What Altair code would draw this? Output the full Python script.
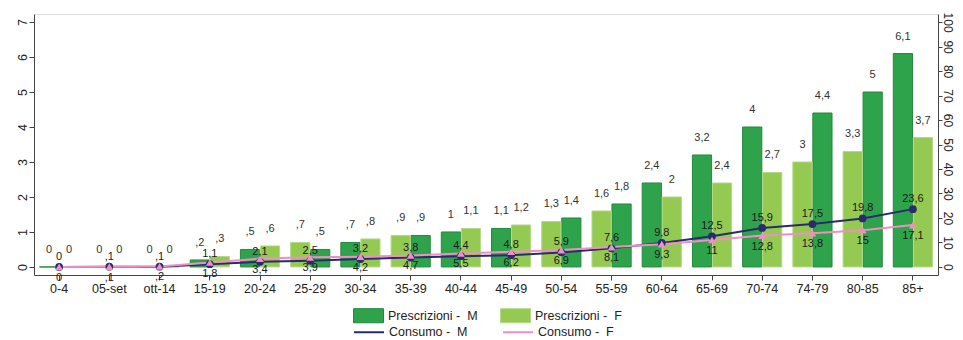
import altair as alt
import pandas as pd

ages = ["0-4", "05-set", "ott-14", "15-19", "20-24", "25-29", "30-34", "35-39",
        "40-44", "45-49", "50-54", "55-59", "60-64", "65-69", "70-74", "74-79",
        "80-85", "85+"]
presc_m = [0, 0, 0, 0.2, 0.5, 0.5, 0.7, 0.9, 1.0, 1.1, 1.4, 1.8, 2.4, 3.2, 4.0, 4.4, 5.0, 6.1]
presc_f = [0, 0, 0, 0.3, 0.6, 0.7, 0.8, 0.9, 1.1, 1.2, 1.3, 1.6, 2.0, 2.4, 2.7, 3.0, 3.3, 3.7]
# whether the M bar is drawn on the left side of its pair (as in the original)
m_left = [True, True, True, True, True, False, True, False, True, True, False, False,
          True, True, True, False, False, True]
cons_m = [0, 0.1, 0.1, 1.1, 2.1, 2.5, 3.2, 3.8, 4.4, 4.8, 5.9, 7.6, 9.8, 12.5, 15.9, 17.5, 19.8, 23.6]
cons_f = [0, 0.1, 0.2, 1.8, 3.4, 3.9, 4.2, 4.7, 5.5, 6.2, 6.9, 8.1, 9.3, 11, 12.8, 13.8, 15, 17.1]

NB = "\u00a0"
S_PM = "Prescrizioni -" + NB + " M"
S_PF = "Prescrizioni -" + NB + " F"
S_CM = "Consumo -" + NB + " M"
S_CF = "Consumo -" + NB + " F"

DARK = "#2ea34b"
LIGHT = "#94c952"
NAVY = "#2c2a6f"
PINK = "#f08fc4"
FONT = "Liberation Sans"
AXC = "#444"


def fmt(v):
    s = ("%g" % v).replace(".", ",")
    if s.startswith("0,"):
        s = s[1:]
    return s


bar_rows = []
line_rows = []
for i, a in enumerate(ages):
    bar_rows.append(dict(age=a, serie=S_PM, value=presc_m[i],
                         slot="L" if m_left[i] else "R", label=fmt(presc_m[i])))
    bar_rows.append(dict(age=a, serie=S_PF, value=presc_f[i],
                         slot="R" if m_left[i] else "L", label=fmt(presc_f[i])))
    line_rows.append(dict(age=a, serie=S_CM, value=cons_m[i], label=fmt(cons_m[i])))
    line_rows.append(dict(age=a, serie=S_CF, value=cons_f[i], label=fmt(cons_f[i])))
bars_df = pd.DataFrame(bar_rows)
lines_df = pd.DataFrame(line_rows)

x_enc = alt.X("age:N", sort=ages,
              scale=alt.Scale(paddingInner=0.22, paddingOuter=0.11),
              axis=alt.Axis(title=None, labelAngle=0, tickSize=5, labelPadding=2,
                            labelFontSize=12.5, domainColor=AXC, tickColor=AXC,
                            labelColor="#222", labelOverlap=False))

left_axis = alt.Axis(title=None, orient="left", values=list(range(8)),
                     labelAngle=270, labelAlign="center", labelBaseline="alphabetic",
                     tickSize=5, labelPadding=3, grid=False, labelOverlap=False,
                     labelFontSize=12.5, domainColor=AXC, tickColor=AXC,
                     labelColor="#222")
left_scale = alt.Scale(domain=[-0.23, 7.23], nice=False, zero=False)

right_axis = alt.Axis(title=None, orient="right", values=list(range(0, 101, 10)),
                      labelAngle=90, labelAlign="center", labelBaseline="alphabetic",
                      tickSize=4, labelPadding=1, grid=False, labelOverlap=False,
                      labelFontSize=12, domainColor=AXC, tickColor=AXC,
                      labelColor="#222")
right_scale = alt.Scale(domain=[-3.3, 103.3], nice=False, zero=False)

bar_base = alt.Chart(bars_df)
bars = bar_base.mark_bar(strokeWidth=1).encode(
    x=x_enc,
    xOffset=alt.XOffset("slot:N", scale=alt.Scale(domain=["L", "R"], paddingInner=0.04)),
    y=alt.Y("value:Q", stack=None, scale=left_scale, axis=left_axis),
    fill=alt.Fill("serie:N", scale=alt.Scale(domain=[S_PM, S_PF], range=[DARK, LIGHT]),
                  legend=alt.Legend(title=None, orient="none", legendX=319, legendY=286,
                                    columns=2, columnPadding=20, padding=0,
                                    symbolType="M-1,-0.47H1V0.47H-1Z", symbolSize=900,
                                    symbolStrokeWidth=1, labelFontSize=12.5,
                                    labelFont=FONT, labelColor="#222", labelOffset=4)),
    stroke=alt.Stroke("serie:N", scale=alt.Scale(domain=[S_PM, S_PF], range=["#238a3c", "#b3da86"]),
                      legend=None),
)
bar_text = bar_base.mark_text(dy=-17, fontSize=11, font=FONT, color="#333").encode(
    x=alt.X("age:N", sort=ages),
    xOffset=alt.XOffset("slot:N"),
    y=alt.Y("value:Q", stack=None, scale=left_scale, axis=left_axis),
    text="label:N",
)

line_base = alt.Chart(lines_df)
y_r = alt.Y("value:Q", scale=right_scale, axis=right_axis)
lines = line_base.mark_line(strokeWidth=2).encode(
    x=alt.X("age:N", sort=ages), y=y_r,
    color=alt.Color("serie:N", scale=alt.Scale(domain=[S_CM, S_CF], range=[NAVY, PINK]),
                    legend=alt.Legend(title=None, orient="none", legendX=319, legendY=302,
                                      columns=2, columnPadding=31, padding=0,
                                      symbolType="stroke", symbolSize=900,
                                      symbolStrokeWidth=2, labelFontSize=12.5,
                                      labelFont=FONT, labelColor="#222", labelOffset=4)),
)
pts_m = line_base.transform_filter(alt.datum.serie == S_CM).mark_point(
    filled=True, size=60, opacity=1, shape="circle", color=NAVY).encode(
    x=alt.X("age:N", sort=ages), y=y_r)
pts_f = line_base.transform_filter(alt.datum.serie == S_CF).mark_point(
    filled=True, size=60, opacity=1, shape="triangle-up", color=PINK).encode(
    x=alt.X("age:N", sort=ages), y=y_r)
text_m = line_base.transform_filter(alt.datum.serie == S_CM).mark_text(
    dy=-10, fontSize=11, font=FONT, color="#1a1a1a").encode(
    x=alt.X("age:N", sort=ages), y=y_r, text="label:N")
text_f = line_base.transform_filter(alt.datum.serie == S_CF).mark_text(
    dy=11, fontSize=11, font=FONT, color="#1a1a1a").encode(
    x=alt.X("age:N", sort=ages), y=y_r, text="label:N")

left_layer = alt.layer(bars, bar_text)
right_layer = alt.layer(lines, pts_m, pts_f, text_m, text_f)

chart = alt.layer(left_layer, right_layer).resolve_scale(
    y="independent"
).properties(
    width=904, height=261,
    autosize=alt.AutoSizeParams(type="none"),
    padding={"left": 26, "top": 6, "right": 17, "bottom": 64},
).configure_view(stroke=None).configure(font=FONT).configure_axis(labelOverlap=False)

chart.save("out.html", embed_options={"renderer": "svg", "actions": False})
